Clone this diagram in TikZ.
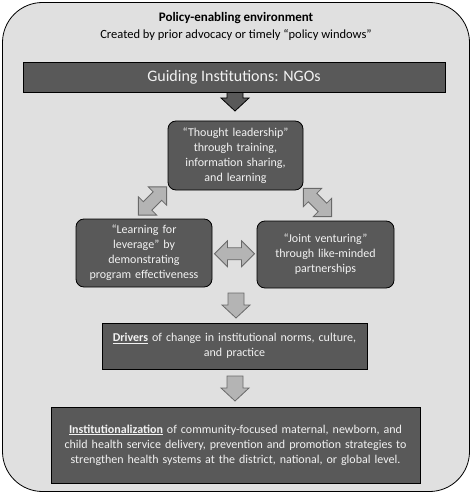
\documentclass[tikz,border=0pt]{standalone}
\usepackage{fontspec}
\setmainfont{Carlito}
\usepackage{tikz}
\usetikzlibrary{calc,positioning}
\definecolor{envgray}{RGB}{224,224,224}
\definecolor{boxgray}{RGB}{89,89,89}
\definecolor{textwhite}{RGB}{242,242,242}
\definecolor{arrowfill}{RGB}{180,180,180}
\definecolor{arrowline}{RGB}{105,105,105}

\tikzset{
  envbox/.style={draw=black, thick, fill=envgray, rounded corners=40pt},
  darkbox/.style={draw=black, thick, fill=boxgray, text=textwhite, align=center,
    font=\fontsize{12}{15}\selectfont, inner sep=2pt},
  roundbox/.style={darkbox, rounded corners=8pt},
  lightarrow/.style={draw=arrowline, fill=arrowfill, line width=0.8pt},
  darkarrow/.style={draw=black, fill=boxgray, line width=0.8pt},
  pics/downarr/.style={code={
    \path[#1] (-8,0) -- (8,0) -- (8,12) -- (14,12) -- (0,25) -- (-14,12) -- (-8,12) -- cycle;}},
  pics/dblarr/.style={code={
    \path[lightarrow] (-20,0) -- (-7,-13) -- (-7,-6) -- (7,-6) -- (7,-13) -- (20,0)
      -- (7,13) -- (7,6) -- (-7,6) -- (-7,13) -- cycle;}},
}

\begin{document}
\begin{tikzpicture}[x=1pt, y=-1pt]
  \useasboundingbox (0,0) rectangle (472,494);
  % environment
  \node[envbox, minimum width=467pt, minimum height=489pt] (env) at (236,247) {};
  \node[font=\fontsize{13}{15}\selectfont\bfseries, inner sep=0pt] (title) at (236,18) {Policy-enabling environment};
  \node[font=\fontsize{12.5}{15}\selectfont, inner sep=0pt] (subtitle) at (236,35)
    {Created by prior advocacy or timely “policy windows”};

  % guiding institutions
  \pic at (235,86) {downarr=darkarrow};
  \node[darkbox, minimum width=422pt, minimum height=30pt, font=\fontsize{16}{18}\selectfont] (ngo)
    at (234,77) {Guiding Institutions: NGOs};

  % three strategies
  \node[roundbox, minimum width=135pt, minimum height=69pt, text width=128pt] (thought) at (235.5,155.5)
    {“Thought leadership”\\ through training,\\ information sharing,\\ and learning};
  \node[roundbox, minimum width=136pt, minimum height=68pt, text width=129pt] (leverage) at (144,253)
    {“Learning for\\ leverage” by\\ demonstrating\\ program effectiveness};
  \node[roundbox, minimum width=137pt, minimum height=67pt, text width=130pt] (joint) at (325.5,254.5)
    {“Joint venturing”\\ through like-minded\\ partnerships};
  \pic[rotate=45] at (152.5,201) {dblarr};
  \pic[rotate=-45] at (317.5,202.5) {dblarr};
  \pic at ($(leverage.east)!0.5!(joint.west)$) {dblarr};

  % drivers and institutionalization
  \node[darkbox, minimum width=265pt, minimum height=46pt, text width=258pt] (drivers) at (234.5,346)
    {\underline{\textbf{Drivers}} of change in institutional norms, culture,\\ and practice};
  \node[darkbox, minimum width=369pt, minimum height=76pt, text width=362pt] (inst) at (235.5,445)
    {\underline{\textbf{Institutionalization}} of community-focused maternal, newborn, and\\
     child health service delivery, prevention and promotion strategies to\\
     strengthen health systems at the district, national, or global level.};
  \pic at (236,293) {downarr=lightarrow};
  \pic at (235,376) {downarr=lightarrow};
\end{tikzpicture}
\end{document}
